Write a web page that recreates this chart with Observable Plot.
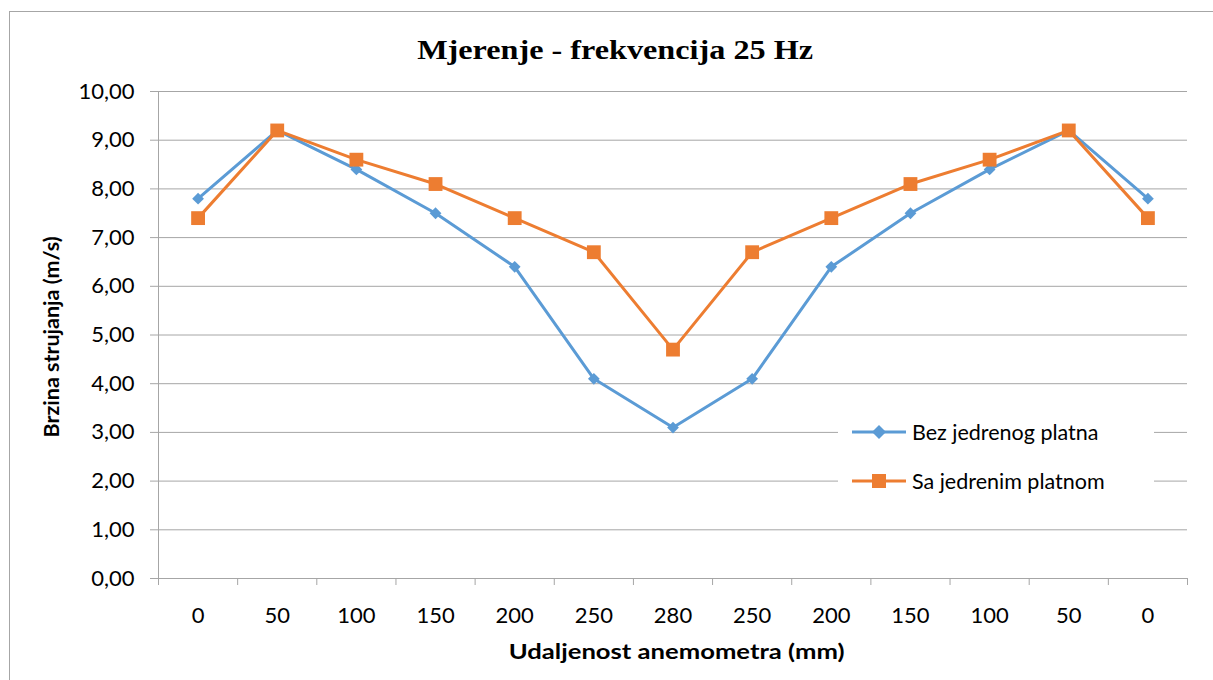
<!DOCTYPE html>
<html>
<head>
<meta charset="utf-8">
<script src="https://cdn.jsdelivr.net/npm/d3@7"></script>
<script src="https://cdn.jsdelivr.net/npm/@observablehq/plot@0.6"></script>
<style>
  html, body { margin: 0; padding: 0; background: #fff; }
  #wrap { position: relative; width: 1213px; height: 680px; overflow: hidden; font-family: Lato, "Open Sans", sans-serif; }
  #frame { position: absolute; left: 9px; top: 11px; width: 1300px; height: 800px; border: 1px solid #A6A6A6; box-sizing: border-box; }
  #chart { position: absolute; left: 0; top: 0; }
  #title { position: absolute; left: 9px; width: 1213px; top: 36px; text-align: center; line-height: 1; }
  #title span { display: inline-block; transform: scaleX(1.15); font-family: "Liberation Serif", "Times New Roman", serif; font-weight: bold; font-size: 28px; color: #000; }
  #xlabel { position: absolute; left: 162px; width: 1029px; top: 640px; text-align: center; line-height: 1; }
  #xlabel span { display: inline-block; transform: scaleX(1.22); font-weight: bold; font-size: 21px; color: #000; }
  #ylabel { position: absolute; left: 52px; top: 337px; transform: translate(-50%, -50%) rotate(-90deg); white-space: nowrap; font-weight: bold; font-size: 21.5px; line-height: 1; color: #000; }
  #legend { position: absolute; left: 838px; top: 410px; width: 316px; height: 95px; background: #fff; }
  .lrow { position: absolute; left: 14px; height: 30px; display: flex; align-items: center; font-size: 21.5px; color: #000; white-space: nowrap; }
  .lrow svg { margin-right: 6px; }
</style>
</head>
<body>
<div id="wrap">
  <div id="frame"></div>
  <div id="chart"></div>
  <div id="title"><span>Mjerenje - frekvencija 25 Hz</span></div>
  <div id="ylabel">Brzina strujanja (m/s)</div>
  <div id="xlabel"><span>Udaljenost anemometra (mm)</span></div>
  <div id="legend"></div>
</div>
<script>
// ---- data ----
const xLabels = ["0", "50", "100", "150", "200", "250", "280", "250", "200", "150", "100", "50", "0"];
const bezPlatna = [7.8, 9.2, 8.4, 7.5, 6.4, 4.1, 3.1, 4.1, 6.4, 7.5, 8.4, 9.2, 7.8];
const saPlatnom = [7.4, 9.2, 8.6, 8.1, 7.4, 6.7, 4.7, 6.7, 7.4, 8.1, 8.6, 9.2, 7.4];
const yTicks = [0, 1, 2, 3, 4, 5, 6, 7, 8, 9, 10];
const seriesNames = ["Bez jedrenog platna", "Sa jedrenim platnom"];

const blue = "#5B9BD5";
const orange = "#ED7D31";
const grid = "#A6A6A6";

const idx = xLabels.map((_, i) => i);
const bounds = d3.range(-0.5, xLabels.length, 1);
const bezData = idx.map(i => ({i, v: bezPlatna[i]}));
const saData = idx.map(i => ({i, v: saPlatnom[i]}));

const fmt = d => d.toFixed(2).replace(".", ",");

const chart = Plot.plot({
  width: 1213,
  height: 680,
  marginLeft: 158,
  marginRight: 26,
  marginTop: 91,
  marginBottom: 102,
  style: {fontFamily: "Lato, 'Open Sans', sans-serif", background: "transparent", overflow: "visible"},
  x: {type: "linear", domain: [-0.5, xLabels.length - 0.5]},
  y: {domain: [0, 10]},
  marks: [
    Plot.gridY(yTicks, {stroke: grid, strokeOpacity: 1, strokeWidth: 1}),
    Plot.axisY(yTicks, {tickFormat: fmt, tickSize: 8, tickPadding: 16, fontSize: 22, stroke: grid, fill: "#000", label: null}),
    Plot.ruleX([-0.5], {stroke: grid, strokeWidth: 1}),
    Plot.ruleY([0], {stroke: grid, strokeWidth: 1}),
    Plot.axisX(bounds, {tickSize: 7, tickFormat: () => "", stroke: grid, label: null}),
    Plot.axisX(idx, {tickSize: 0, tickPadding: 29, tickFormat: i => xLabels[i], fontSize: 22, fill: "#000", label: null}),
    Plot.line(bezData, {x: "i", y: "v", stroke: blue, strokeWidth: 3}),
    Plot.line(saData, {x: "i", y: "v", stroke: orange, strokeWidth: 3}),
    Plot.dot(bezData, {x: "i", y: "v", symbol: "diamond2", r: 5.3, fill: blue, stroke: "none"}),
    Plot.dot(saData, {x: "i", y: "v", symbol: "square", r: 7.8, fill: orange, stroke: "none"})
  ]
});
document.getElementById("chart").appendChild(chart);

// legend
const legend = document.getElementById("legend");
const swatch = (color, kind) => {
  const shape = kind === "diamond"
    ? `<path d="M27,-7 L34,0 L27,7 L20,0 Z" fill="${color}" transform="translate(0,15)"/>`
    : `<rect x="20" y="8" width="14" height="14" fill="${color}"/>`;
  return `<svg width="54" height="30"><line x1="0" x2="54" y1="15" y2="15" stroke="${color}" stroke-width="3"/>${shape}</svg>`;
};
[[seriesNames[0], blue, "diamond", 7], [seriesNames[1], orange, "square", 56]].forEach(([name, color, kind, top]) => {
  const row = document.createElement("div");
  row.className = "lrow";
  row.style.top = top + "px";
  row.innerHTML = swatch(color, kind) + `<span>${name}</span>`;
  legend.appendChild(row);
});
</script>
</body>
</html>
